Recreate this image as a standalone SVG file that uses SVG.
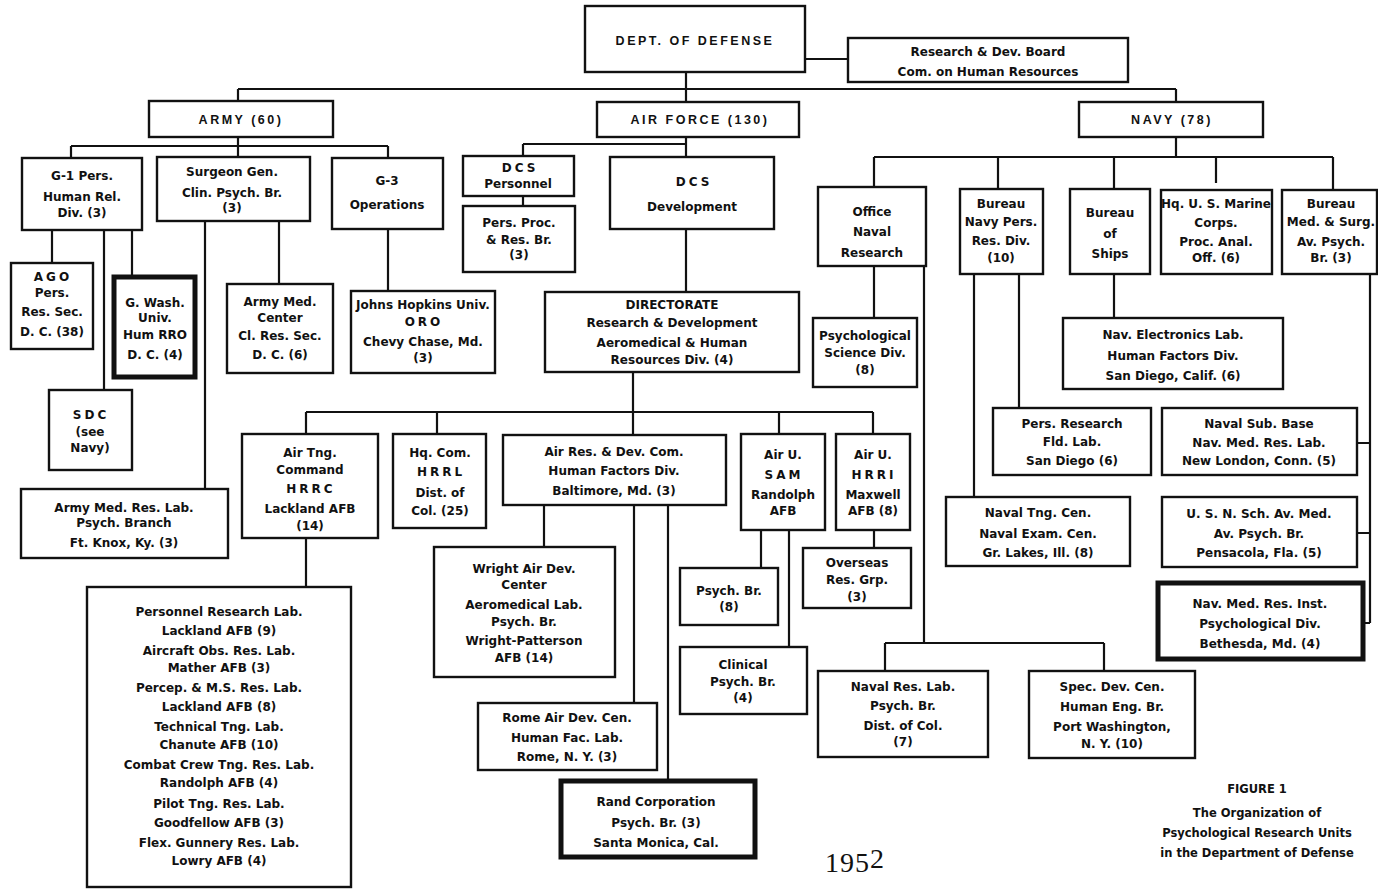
<svg xmlns="http://www.w3.org/2000/svg" width="1378" height="889" viewBox="0 0 1378 889">
<style>
.b{fill:#fff;stroke:#111;stroke-width:2.4}
.tb{fill:#fff;stroke:#111;stroke-width:5}
.c{fill:none;stroke:#111;stroke-width:2.2}
text{font-family:"DejaVu Sans","Liberation Sans",sans-serif;font-weight:bold;font-size:12px;text-anchor:middle;fill:#111}
.h{font-family:"Liberation Sans",Arial,sans-serif;font-size:12.5px;letter-spacing:2.5px}
.sp{letter-spacing:3px}
.cap{font-size:11.5px}
.yr{font-family:"Liberation Serif",serif;font-weight:normal;font-size:28px;letter-spacing:1px}
</style>
<rect width="1378" height="889" fill="#fff"/>
<g id="connectors">
<path class="c" d="M805 59H848 M686 72V89 M238 89H1176 M238 89V101 M686 89V102 M1176 89V102"/>
<path class="c" d="M238 137V157 M71 146H388 M71 146V158 M388 146V158"/>
<path class="c" d="M52 230V263 M104 230V390 M132 230V277 M205 221V489 M279 221V284 M388 229V291"/>
<path class="c" d="M686 137V157 M523 144H686 M523 144V156 M523 196V206 M686 229V292"/>
<path class="c" d="M633 372V412 M306 412H873 M306 412V434 M437 412V434 M633 412V435 M779 412V434 M873 412V434"/>
<path class="c" d="M306 538V587 M544 505V547 M634 505V703 M668 505V781 M761 530V568 M789 530V647 M874 530V548"/>
<path class="c" d="M1176 137V157 M874 157H1333 M874 157V187 M998 157V189 M1114 157V189 M1216 157V183 M1333 157V190"/>
<path class="c" d="M874 266V318 M924 266V643 M885 643H1104 M885 643V671 M1104 643V671"/>
<path class="c" d="M974 274V497 M1019 274V408 M1114 274V318"/>
<path class="c" d="M1370 274V623 M1357 443H1370 M1357 533H1370 M1363 623H1370"/>
</g>

<g id="dod"><rect class="b" x="585" y="6" width="220" height="66"/><text class="h" x="695" y="45">DEPT. OF DEFENSE</text></g>
<g id="rdboard"><rect class="b" x="848" y="38" width="280" height="44"/><text x="988" y="56">Research &amp; Dev. Board</text><text x="988" y="76">Com. on Human Resources</text></g>

<g id="army"><rect class="b" x="149" y="101" width="184" height="36"/><text class="h" x="241" y="124">ARMY (60)</text></g>
<g id="airforce"><rect class="b" x="597" y="102" width="202" height="35"/><text class="h" x="700" y="124">AIR FORCE (130)</text></g>
<g id="navy"><rect class="b" x="1079" y="102" width="184" height="35"/><text class="h" x="1172" y="124">NAVY (78)</text></g>

<g id="g1"><rect class="b" x="22" y="158" width="120" height="72"/><text x="82" y="180">G-1 Pers.</text><text x="82" y="201">Human Rel.</text><text x="82" y="217">Div. (3)</text></g>
<g id="surgeon"><rect class="b" x="157" y="157" width="153" height="64"/><text x="232" y="176">Surgeon Gen.</text><text x="232" y="197">Clin. Psych. Br.</text><text x="232" y="212">(3)</text></g>
<g id="g3"><rect class="b" x="332" y="158" width="111" height="71"/><text x="387" y="185">G-3</text><text x="387" y="209">Operations</text></g>

<g id="ago"><rect class="b" x="11" y="263" width="82" height="86"/><text class="sp" x="53" y="281">AGO</text><text x="52" y="297">Pers.</text><text x="52" y="316">Res. Sec.</text><text x="52" y="336">D. C. (38)</text></g>
<g id="gwash"><rect class="tb" x="114" y="277" width="81" height="100"/><text x="155" y="307">G. Wash.</text><text x="155" y="322">Univ.</text><text x="155" y="339">Hum RRO</text><text x="155" y="359">D. C. (4)</text></g>
<g id="sdc"><rect class="b" x="49" y="390" width="83" height="80"/><text class="sp" x="91" y="419">SDC</text><text x="90" y="436">(see</text><text x="90" y="452">Navy)</text></g>
<g id="armymedreslab"><rect class="b" x="21" y="489" width="207" height="69"/><text x="124" y="512">Army Med. Res. Lab.</text><text x="124" y="527">Psych. Branch</text><text x="124" y="547">Ft. Knox, Ky. (3)</text></g>
<g id="armymedcenter"><rect class="b" x="227" y="284" width="106" height="89"/><text x="280" y="306">Army Med.</text><text x="280" y="322">Center</text><text x="280" y="340">Cl. Res. Sec.</text><text x="280" y="359">D. C. (6)</text></g>
<g id="jhu"><rect class="b" x="351" y="291" width="144" height="82"/><text x="423" y="309">Johns Hopkins Univ.</text><text class="sp" x="424" y="326">ORO</text><text x="423" y="346">Chevy Chase, Md.</text><text x="423" y="362">(3)</text></g>

<g id="dcspers"><rect class="b" x="463" y="156" width="111" height="40"/><text class="sp" x="520" y="172">DCS</text><text x="518" y="188">Personnel</text></g>
<g id="dcsdev"><rect class="b" x="610" y="157" width="164" height="72"/><text class="sp" x="694" y="186">DCS</text><text x="692" y="211">Development</text></g>
<g id="persproc"><rect class="b" x="463" y="206" width="112" height="66"/><text x="519" y="227">Pers. Proc.</text><text x="519" y="244">&amp; Res. Br.</text><text x="519" y="259">(3)</text></g>
<g id="directorate"><rect class="b" x="545" y="292" width="254" height="80"/><text x="672" y="309">DIRECTORATE</text><text x="672" y="327">Research &amp; Development</text><text x="672" y="347">Aeromedical &amp; Human</text><text x="672" y="364">Resources Div. (4)</text></g>

<g id="airtng"><rect class="b" x="242" y="434" width="136" height="104"/><text x="310" y="457">Air Tng.</text><text x="310" y="474">Command</text><text class="sp" x="311" y="493">HRRC</text><text x="310" y="513">Lackland AFB</text><text x="310" y="530">(14)</text></g>
<g id="hqcom"><rect class="b" x="393" y="434" width="93" height="94"/><text x="440" y="457">Hq. Com.</text><text class="sp" x="441" y="476">HRRL</text><text x="440" y="497">Dist. of</text><text x="440" y="515">Col. (25)</text></g>
<g id="airres"><rect class="b" x="503" y="435" width="223" height="70"/><text x="614" y="456">Air Res. &amp; Dev. Com.</text><text x="614" y="475">Human Factors Div.</text><text x="614" y="495">Baltimore, Md. (3)</text></g>
<g id="sam"><rect class="b" x="741" y="434" width="84" height="96"/><text x="783" y="459">Air U.</text><text class="sp" x="784" y="479">SAM</text><text x="783" y="499">Randolph</text><text x="783" y="515">AFB</text></g>
<g id="hrri"><rect class="b" x="836" y="434" width="74" height="96"/><text x="873" y="459">Air U.</text><text class="sp" x="874" y="479">HRRI</text><text x="873" y="499">Maxwell</text><text x="873" y="515">AFB (8)</text></g>
<g id="overseas"><rect class="b" x="803" y="548" width="108" height="60"/><text x="857" y="567">Overseas</text><text x="857" y="584">Res. Grp.</text><text x="857" y="601">(3)</text></g>
<g id="psychbr8"><rect class="b" x="680" y="568" width="98" height="57"/><text x="729" y="595">Psych. Br.</text><text x="729" y="611">(8)</text></g>
<g id="clinical"><rect class="b" x="680" y="647" width="127" height="67"/><text x="743" y="669">Clinical</text><text x="743" y="686">Psych. Br.</text><text x="743" y="702">(4)</text></g>
<g id="wright"><rect class="b" x="434" y="547" width="181" height="130"/><text x="524" y="573">Wright Air Dev.</text><text x="524" y="589">Center</text><text x="524" y="609">Aeromedical Lab.</text><text x="524" y="626">Psych. Br.</text><text x="524" y="645">Wright-Patterson</text><text x="524" y="662">AFB (14)</text></g>
<g id="rome"><rect class="b" x="478" y="703" width="179" height="67"/><text x="567" y="722">Rome Air Dev. Cen.</text><text x="567" y="742">Human Fac. Lab.</text><text x="567" y="761">Rome, N. Y. (3)</text></g>
<g id="rand"><rect class="tb" x="561" y="781" width="194" height="76"/><text x="656" y="806">Rand Corporation</text><text x="656" y="827">Psych. Br. (3)</text><text x="656" y="847">Santa Monica, Cal.</text></g>
<g id="labs"><rect class="b" x="87" y="587" width="264" height="300"/>
<text x="219" y="616">Personnel Research Lab.</text><text x="219" y="635">Lackland AFB (9)</text>
<text x="219" y="655">Aircraft Obs. Res. Lab.</text><text x="219" y="672">Mather AFB (3)</text>
<text x="219" y="692">Percep. &amp; M.S. Res. Lab.</text><text x="219" y="711">Lackland AFB (8)</text>
<text x="219" y="731">Technical Tng. Lab.</text><text x="219" y="749">Chanute AFB (10)</text>
<text x="219" y="769">Combat Crew Tng. Res. Lab.</text><text x="219" y="787">Randolph AFB (4)</text>
<text x="219" y="808">Pilot Tng. Res. Lab.</text><text x="219" y="827">Goodfellow AFB (3)</text>
<text x="219" y="847">Flex. Gunnery Res. Lab.</text><text x="219" y="865">Lowry AFB (4)</text></g>

<g id="onr"><rect class="b" x="818" y="187" width="108" height="79"/><text x="872" y="216">Office</text><text x="872" y="236">Naval</text><text x="872" y="257">Research</text></g>
<g id="bnp"><rect class="b" x="960" y="189" width="83" height="85"/><text x="1001" y="208">Bureau</text><text x="1001" y="226">Navy Pers.</text><text x="1001" y="245">Res. Div.</text><text x="1001" y="262">(10)</text></g>
<g id="ships"><rect class="b" x="1070" y="189" width="80" height="85"/><text x="1110" y="217">Bureau</text><text x="1110" y="238">of</text><text x="1110" y="258">Ships</text></g>
<g id="marine"><rect class="b" x="1161" y="190" width="111" height="84"/><text x="1216" y="208">Hq. U. S. Marine</text><text x="1216" y="227">Corps.</text><text x="1216" y="246">Proc. Anal.</text><text x="1216" y="262">Off. (6)</text></g>
<g id="bms"><rect class="b" x="1282" y="190" width="95" height="84"/><text x="1331" y="208">Bureau</text><text x="1331" y="226">Med. &amp; Surg.</text><text x="1331" y="246">Av. Psych.</text><text x="1331" y="262">Br. (3)</text></g>
<g id="psd"><rect class="b" x="813" y="318" width="104" height="69"/><text x="865" y="340">Psychological</text><text x="865" y="357">Science Div.</text><text x="865" y="374">(8)</text></g>
<g id="navelec"><rect class="b" x="1063" y="318" width="220" height="71"/><text x="1173" y="339">Nav. Electronics Lab.</text><text x="1173" y="360">Human Factors Div.</text><text x="1173" y="380">San Diego, Calif. (6)</text></g>
<g id="persres"><rect class="b" x="993" y="408" width="158" height="67"/><text x="1072" y="428">Pers. Research</text><text x="1072" y="446">Fld. Lab.</text><text x="1072" y="465">San Diego (6)</text></g>
<g id="navalsub"><rect class="b" x="1162" y="408" width="195" height="67"/><text x="1259" y="428">Naval Sub. Base</text><text x="1259" y="447">Nav. Med. Res. Lab.</text><text x="1259" y="465">New London, Conn. (5)</text></g>
<g id="navaltng"><rect class="b" x="946" y="497" width="184" height="69"/><text x="1038" y="517">Naval Tng. Cen.</text><text x="1038" y="538">Naval Exam. Cen.</text><text x="1038" y="557">Gr. Lakes, Ill. (8)</text></g>
<g id="usn"><rect class="b" x="1162" y="497" width="195" height="70"/><text x="1259" y="518">U. S. N. Sch. Av. Med.</text><text x="1259" y="538">Av. Psych. Br.</text><text x="1259" y="557">Pensacola, Fla. (5)</text></g>
<g id="nmri"><rect class="tb" x="1158" y="583" width="205" height="76"/><text x="1260" y="608">Nav. Med. Res. Inst.</text><text x="1260" y="628">Psychological Div.</text><text x="1260" y="648">Bethesda, Md. (4)</text></g>
<g id="nrl"><rect class="b" x="818" y="671" width="170" height="86"/><text x="903" y="691">Naval Res. Lab.</text><text x="903" y="710">Psych. Br.</text><text x="903" y="730">Dist. of Col.</text><text x="903" y="746">(7)</text></g>
<g id="specdev"><rect class="b" x="1029" y="671" width="166" height="87"/><text x="1112" y="691">Spec. Dev. Cen.</text><text x="1112" y="711">Human Eng. Br.</text><text x="1112" y="731">Port Washington,</text><text x="1112" y="748">N. Y. (10)</text></g>

<g id="caption"><text class="cap" x="1257" y="793">FIGURE 1</text><text class="cap" x="1257" y="817">The Organization of</text><text class="cap" x="1257" y="837">Psychological Research Units</text><text class="cap" x="1257" y="857">in the Department of Defense</text></g>
<g id="year"><text class="yr" x="855" y="872">195<tspan dy="-4">2</tspan></text></g>
</svg>
